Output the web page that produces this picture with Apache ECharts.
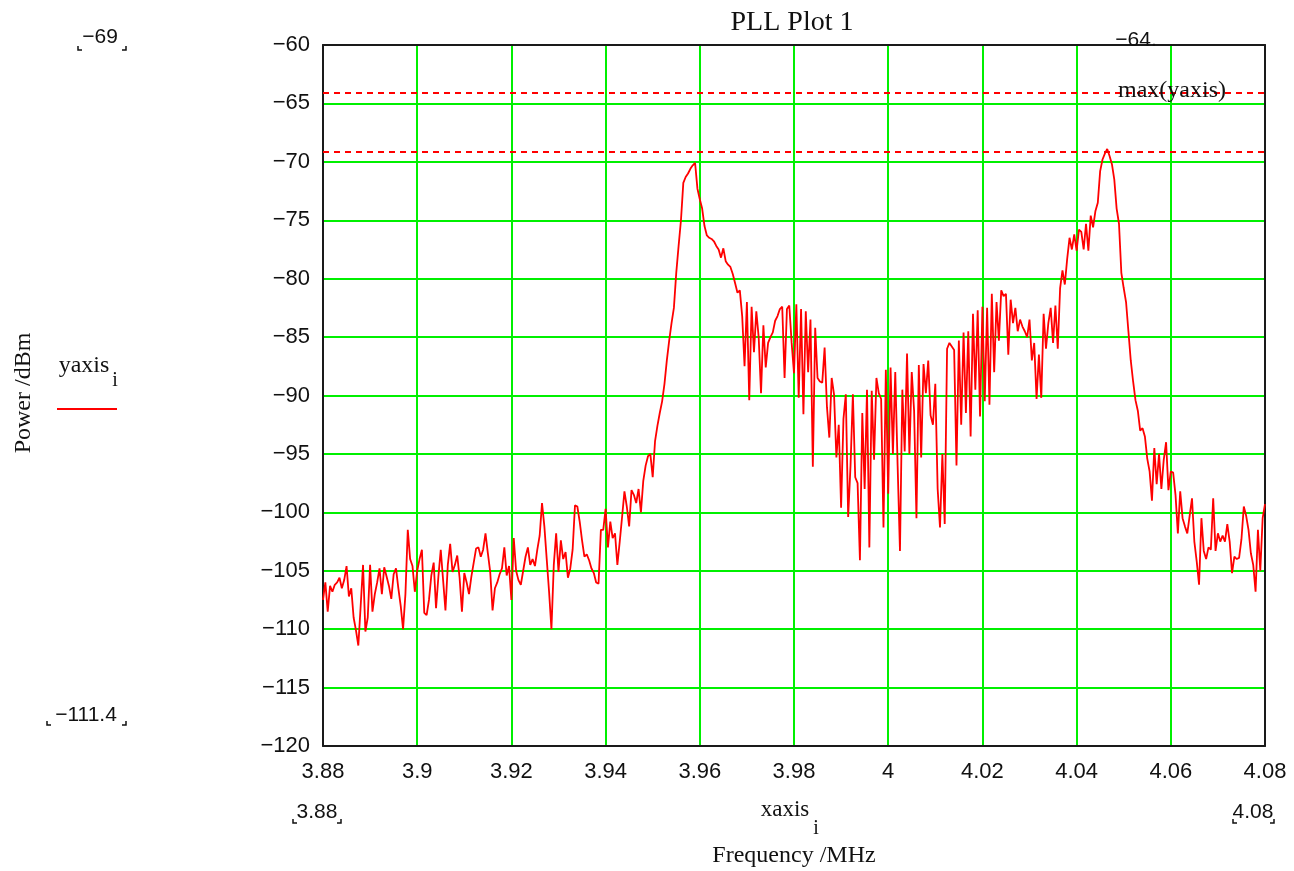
<!DOCTYPE html>
<html><head><meta charset="utf-8">
<script src="https://cdn.jsdelivr.net/npm/echarts@6/dist/echarts.min.js"></script>
<style>html,body{margin:0;padding:0;background:#fff}#c{width:1294px;height:871px}</style>
</head><body><div id="c"></div>
<script>
// ---- data ----
const freqStart = 3.88;      // MHz, first sample
const freqStep = 0.0005;     // MHz between samples
const power = [
-107.5,-106.0,-108.5,-106.3,-106.8,-106.2,-106.0,-105.6,-106.5,-105.8,
-104.6,-107.2,-106.5,-109.0,-110.1,-111.4,-108.0,-104.5,-110.2,-109.0,
-104.5,-108.5,-107.0,-106.0,-104.8,-107.0,-104.7,-105.5,-106.3,-107.4,
-105.3,-104.8,-106.5,-108.0,-110.0,-107.0,-101.5,-104.0,-104.6,-106.8,
-105.0,-104.0,-103.2,-108.6,-108.8,-107.5,-105.4,-104.3,-108.2,-105.5,
-103.2,-105.8,-108.4,-104.5,-102.7,-105.1,-104.5,-103.7,-105.6,-108.5,
-105.2,-106.0,-107.0,-105.5,-104.3,-103.1,-103.0,-103.8,-103.2,-101.8,
-103.5,-105.1,-108.4,-106.5,-106.0,-105.3,-104.8,-103.0,-105.4,-104.6,
-107.5,-102.2,-105.0,-105.8,-106.2,-105.0,-103.8,-103.0,-104.5,-104.0,
-104.6,-103.2,-102.0,-99.2,-101.2,-104.0,-106.8,-110.0,-104.5,-101.8,
-105.1,-102.4,-104.0,-103.4,-105.6,-104.8,-103.2,-99.4,-99.5,-100.8,
-102.4,-103.8,-103.6,-104.1,-104.8,-105.2,-106.0,-106.1,-101.5,-101.5,
-99.7,-103.0,-100.8,-102.2,-101.8,-104.5,-102.5,-100.4,-98.2,-99.5,
-101.2,-98.1,-98.5,-99.2,-98.0,-100.0,-97.3,-96.0,-95.2,-95.0,
-97.0,-93.9,-92.6,-91.5,-90.5,-89.0,-87.0,-85.3,-83.8,-82.5,
-79.5,-77.2,-75.0,-71.8,-71.3,-71.0,-70.6,-70.3,-70.1,-72.3,
-73.2,-74.0,-75.5,-76.3,-76.5,-76.6,-76.8,-77.2,-77.5,-78.2,
-77.4,-78.5,-78.8,-79.0,-79.6,-80.4,-81.2,-81.0,-83.2,-87.5,
-82.0,-90.4,-82.4,-86.3,-82.8,-85.0,-89.8,-84.0,-87.6,-85.5,
-85.0,-84.6,-83.6,-83.2,-82.6,-82.4,-88.5,-82.6,-82.3,-85.5,
-88.1,-82.2,-90.2,-82.6,-91.6,-82.8,-88.0,-83.5,-96.1,-84.2,
-88.5,-88.8,-88.9,-85.9,-91.0,-93.6,-88.5,-89.9,-95.3,-92.5,
-99.6,-92.0,-89.9,-100.4,-96.0,-89.9,-97.0,-97.5,-104.1,-91.5,
-98.0,-89.5,-103.0,-89.6,-95.5,-88.5,-89.8,-90.3,-101.3,-87.8,
-98.4,-87.6,-95.0,-88.0,-96.0,-103.3,-89.5,-94.8,-86.4,-95.0,
-88.0,-91.3,-100.5,-87.4,-95.3,-87.3,-89.8,-87.0,-91.7,-92.5,
-89.0,-98.0,-101.3,-95.0,-101.0,-86.0,-85.5,-85.8,-86.1,-96.0,
-85.3,-92.5,-84.6,-91.5,-84.5,-93.5,-83.0,-89.5,-82.7,-91.8,
-82.4,-90.5,-82.5,-90.8,-81.3,-88.0,-82.0,-85.3,-81.0,-81.5,
-81.3,-86.5,-81.8,-83.8,-82.5,-84.5,-83.5,-84.1,-84.5,-85.0,
-83.5,-87.0,-85.5,-90.3,-86.5,-90.2,-83.0,-86.0,-83.8,-82.5,
-85.5,-82.3,-86.0,-80.8,-79.3,-80.5,-78.3,-76.5,-77.5,-76.2,
-77.6,-75.8,-76.0,-77.5,-75.3,-77.6,-74.6,-75.6,-74.2,-73.5,
-70.8,-69.8,-69.3,-68.9,-69.5,-70.2,-71.5,-74.0,-75.3,-79.5,
-80.8,-82.0,-84.5,-87.0,-88.8,-90.4,-91.3,-93.0,-92.8,-93.5,
-95.4,-96.5,-99.0,-94.5,-97.6,-95.0,-98.0,-95.5,-94.0,-98.1,
-96.5,-96.6,-98.5,-101.8,-98.2,-100.5,-101.2,-101.8,-100.3,-98.8,
-102.5,-104.2,-106.2,-100.5,-103.3,-104.0,-103.0,-103.2,-98.8,-103.3,
-101.8,-102.5,-102.0,-102.5,-101.0,-102.5,-105.2,-103.8,-104.0,-103.9,
-102.3,-99.5,-100.3,-101.5,-103.5,-104.5,-106.8,-101.5,-105.0,-100.5,
-99.3
];
const xRange = [3.88, 4.08];
const xInterval = 0.02;
const yRange = [-120, -60];
const yInterval = 5;
const markerLevels = [-64.1, -69.1];
const titleText = 'PLL Plot 1';
const xName = 'Frequency /MHz';
const yName = 'Power /dBm';
const traceName = 'yaxis';
const xVarName = 'xaxis';
const yLimitLabels = ['-69', '-111.4'];
const xLimitLabels = ['3.88', '4.08'];
const markerLabels = ['-64.', 'max(yaxis)'];

// ---- chart ----
const seriesData = power.map((p, i) => [+(freqStart + i * freqStep).toFixed(4), p]);
const SANS = 'Liberation Sans';
const SERIF = 'Liberation Serif';
const frame = {color: '#1a1a1a', width: 2};
const grid = {left: 323, top: 45, width: 942, height: 701};

function minusFmt(s) { return String(s).replace('-', '\u2212'); }
function txt(x, y, text, font, size, extra) {
  return Object.assign({type: 'text', x, y, z: 100,
    style: {text, font: size + 'px "' + font + '"', fill: '#111', align: 'center', verticalAlign: 'middle'}}, extra || {});
}
function brackets(xl, xr, yb) {
  const ls = {stroke: '#111', lineWidth: 1.5, fill: null};
  return [
    {type: 'polyline', z: 100, shape: {points: [[xl, yb - 4], [xl, yb], [xl + 4, yb]]}, style: ls},
    {type: 'polyline', z: 100, shape: {points: [[xr - 4, yb], [xr, yb], [xr, yb - 4]]}, style: ls}
  ];
}

const graphics = [
  txt(792, 23, titleText, SERIF, 28),
  txt(100, 37, minusFmt(yLimitLabels[0]), SANS, 21), ...brackets(78, 126, 50),
  txt(86, 715, minusFmt(yLimitLabels[1]), SANS, 21), ...brackets(47, 126, 725),
  txt(317, 812, xLimitLabels[0], SANS, 21), ...brackets(293, 341, 823),
  txt(1253, 812, xLimitLabels[1], SANS, 21), ...brackets(1233, 1274, 823),
  txt(785, 810, xVarName, SERIF, 23), txt(816, 829, 'i', SERIF, 20),
  txt(794, 856, xName, SERIF, 24),
  txt(24, 393, yName, SERIF, 24, {rotation: Math.PI / 2}),
  txt(84, 366, traceName, SERIF, 24), txt(115, 381, 'i', SERIF, 20),
  {type: 'line', z: 100, shape: {x1: 57, y1: 409, x2: 117, y2: 409}, style: {stroke: '#ff0000', lineWidth: 2}},
  txt(1136, 40, minusFmt(markerLabels[0]), SANS, 21),
  txt(1172, 91, markerLabels[1], SERIF, 24)
];

const chart = echarts.init(document.getElementById('c'), null, {renderer: 'canvas'});
chart.setOption({
  animation: false,
  backgroundColor: '#fff',
  grid: grid,
  xAxis: [{
    type: 'value', min: xRange[0], max: xRange[1], interval: xInterval, position: 'bottom',
    axisLine: {show: true, onZero: false, lineStyle: frame},
    axisTick: {show: false},
    axisLabel: {fontFamily: SANS, fontSize: 22, color: '#111', margin: 15,
      formatter: v => String(parseFloat(v.toFixed(2)))},
    splitLine: {show: true, showMinLine: false, showMaxLine: false, lineStyle: {color: '#00f000', width: 2}}
  }, {
    type: 'value', min: xRange[0], max: xRange[1], position: 'top',
    axisLine: {show: true, onZero: false, lineStyle: frame},
    axisTick: {show: false}, axisLabel: {show: false}, splitLine: {show: false}
  }],
  yAxis: [{
    type: 'value', min: yRange[0], max: yRange[1], interval: yInterval, position: 'left',
    axisLine: {show: true, onZero: false, lineStyle: frame},
    axisTick: {show: false},
    axisLabel: {fontFamily: SANS, fontSize: 22, color: '#111', margin: 13,
      formatter: v => minusFmt(v)},
    splitLine: {show: true, showMinLine: false, showMaxLine: false, lineStyle: {color: '#00f000', width: 2}}
  }, {
    type: 'value', min: yRange[0], max: yRange[1], position: 'right',
    axisLine: {show: true, onZero: false, lineStyle: frame},
    axisTick: {show: false}, axisLabel: {show: false}, splitLine: {show: false}
  }],
  series: [{
    type: 'line', name: traceName, xAxisIndex: 0, yAxisIndex: 0,
    data: seriesData, showSymbol: false, symbol: 'none',
    lineStyle: {color: '#ff0000', width: 1.8},
    markLine: {
      silent: true, symbol: 'none', label: {show: false},
      lineStyle: {color: '#ff0000', width: 2, type: [6, 5]},
      data: markerLevels.map(v => ({yAxis: v}))
    }
  }],
  graphic: graphics
});
</script>
</body></html>
